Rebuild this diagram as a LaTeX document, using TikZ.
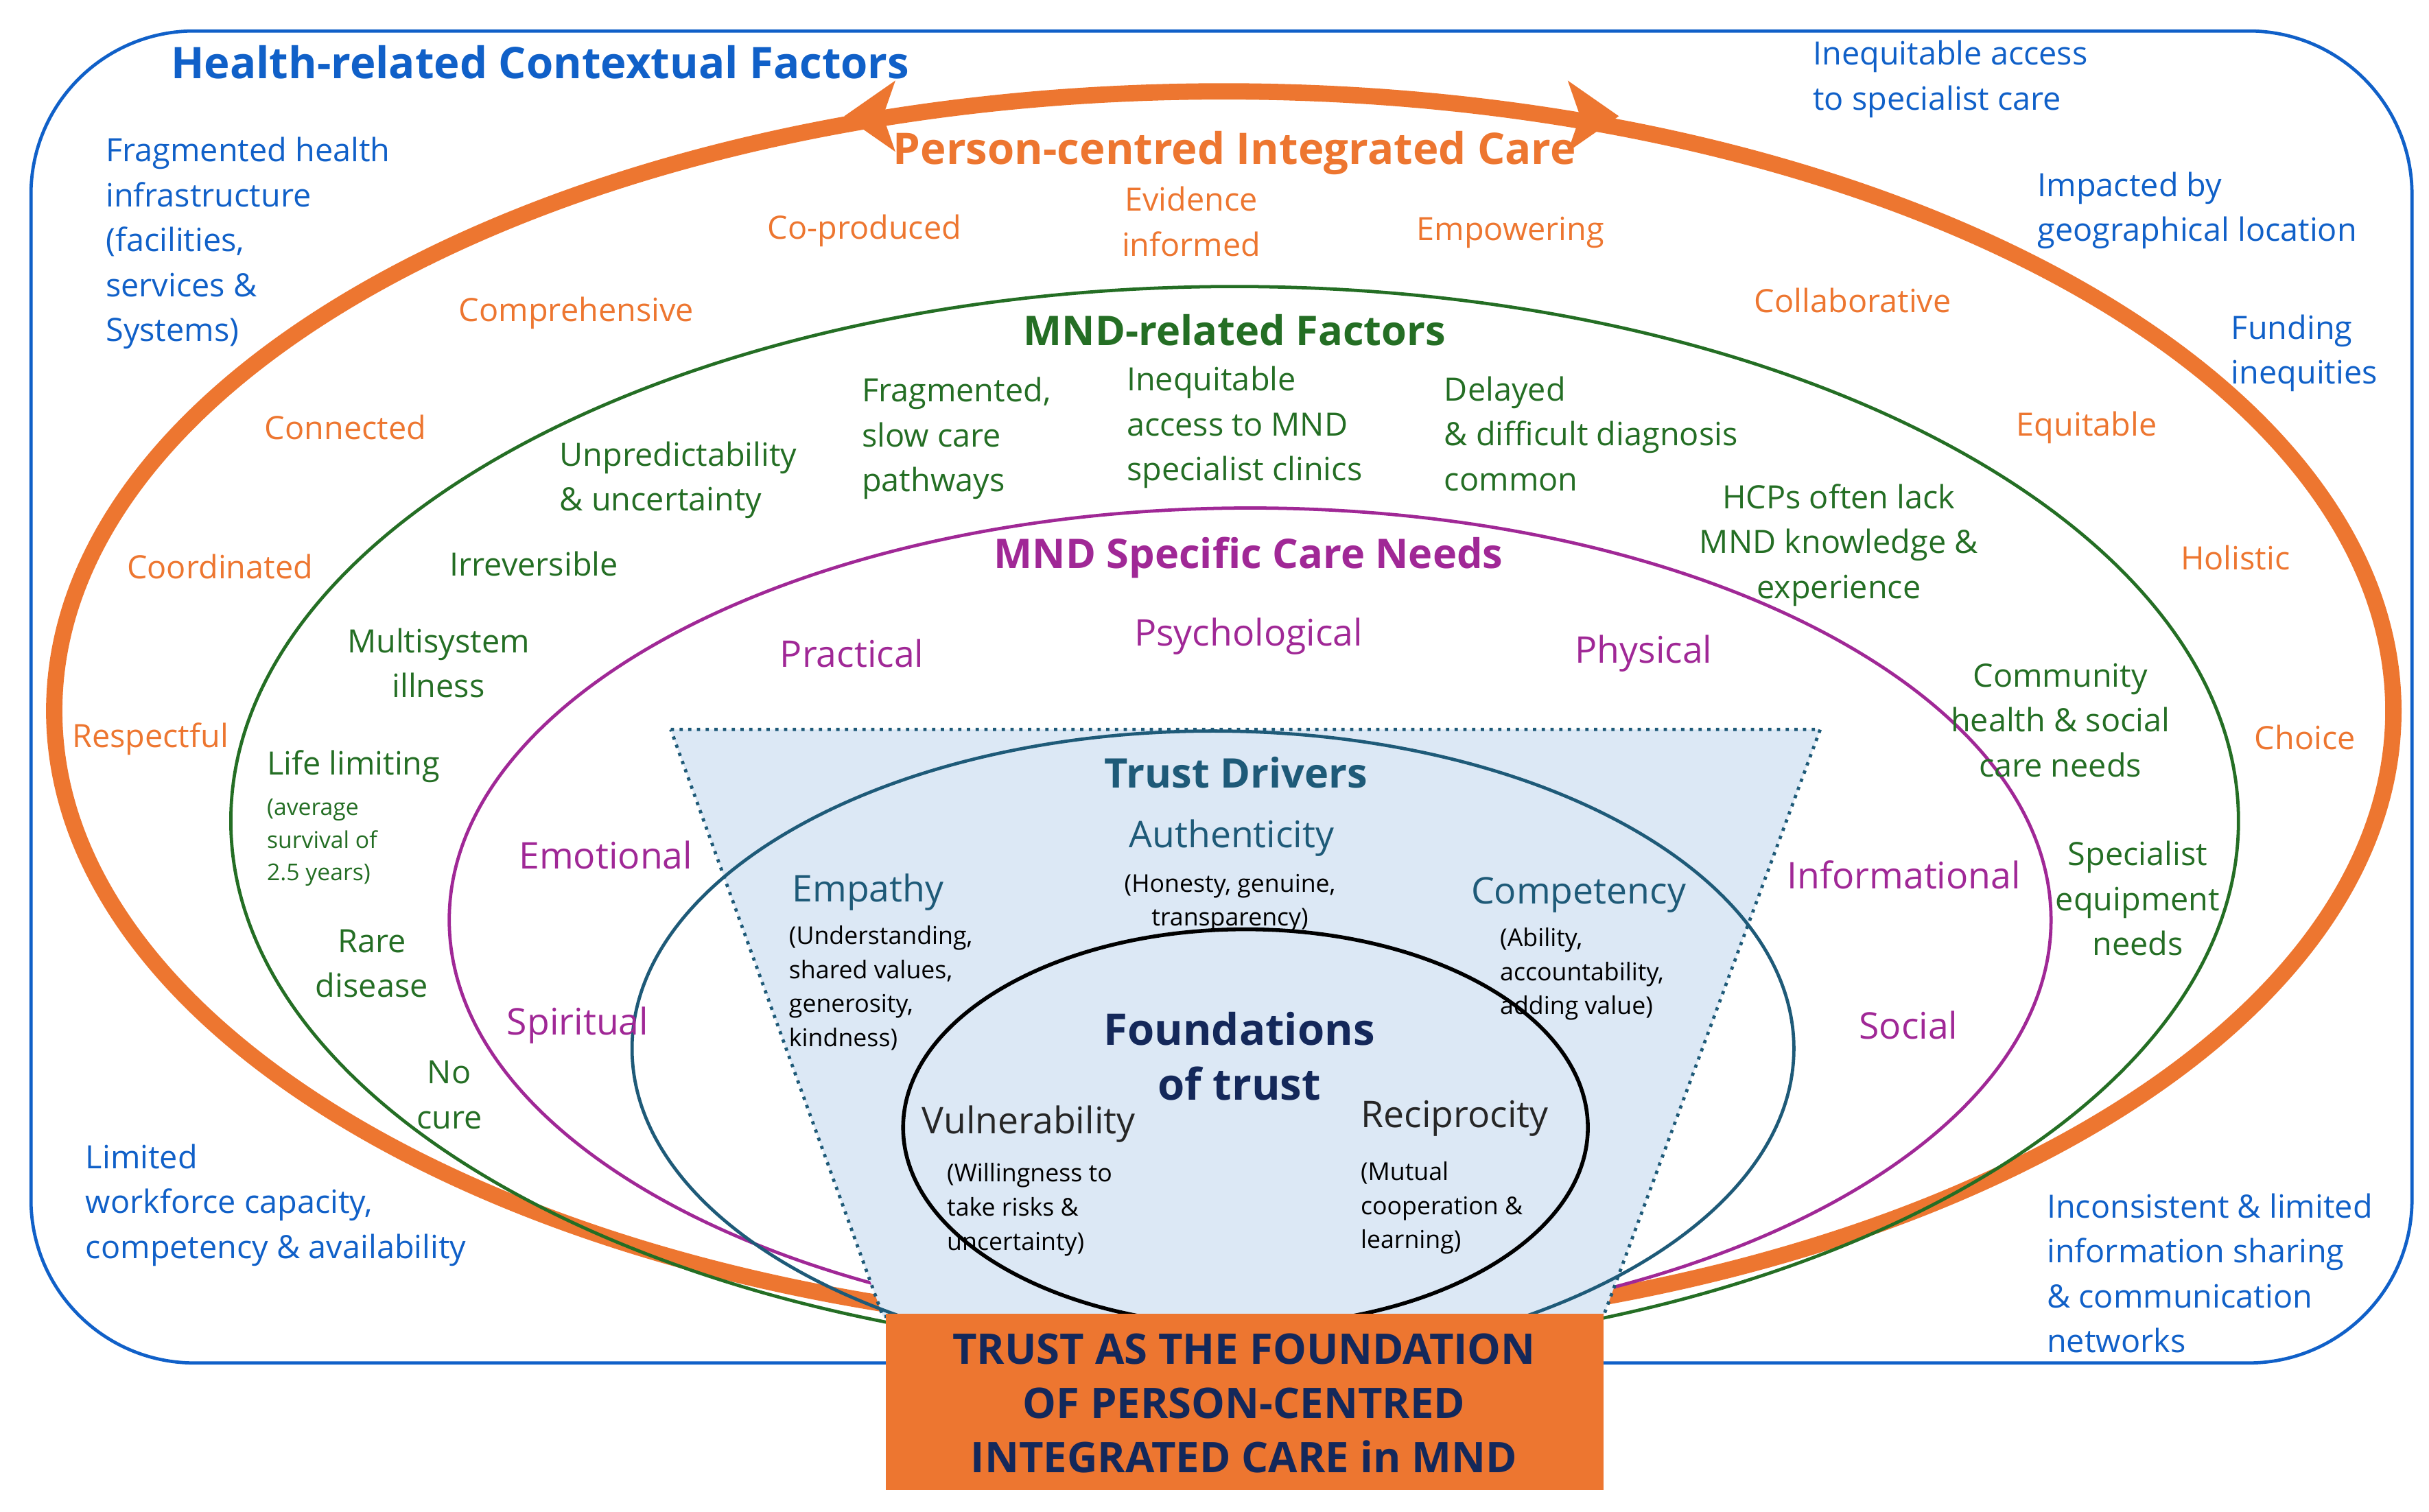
\documentclass[tikz,border=0pt]{standalone}
\usepackage{fontspec}
\setmainfont{Open Sans}
\definecolor{ctxblue}{RGB}{16,96,200}
\definecolor{pcorange}{RGB}{237,118,48}
\definecolor{mndgreen}{RGB}{36,110,36}
\definecolor{needpurple}{RGB}{160,40,150}
\definecolor{drvteal}{RGB}{30,90,120}
\definecolor{fndnavy}{RGB}{20,40,90}
\definecolor{trapfill}{RGB}{220,232,245}
\tikzset{
  lbl/.style={inner sep=0pt, font=\fontsize{11.8}{16.5}\selectfont},
  big/.style={inner sep=0pt, font=\fontsize{13.5}{16}\selectfont},
  sub/.style={inner sep=0pt, font=\fontsize{9}{12.5}\selectfont},
  hd/.style={inner sep=0pt, font=\fontsize{15}{18}\selectfont\bfseries},
  L/.style={anchor=west, align=left},
  C/.style={align=center}
}
\begin{document}
\begin{tikzpicture}[x=0.02cm, y=-0.02cm]
\useasboundingbox (0,0) rectangle (1568,976);

% rings
\draw[ctxblue, line width=1.2pt, rounded corners=60] (20,20) rectangle (1557,880);
\draw[pcorange, line width=6pt] (790,459) ellipse [x radius=755, y radius=400];
\fill[pcorange] (545,75) -- (578,52) -- (570,75) -- (578,98) -- cycle;
\fill[pcorange] (1045,75) -- (1012,52) -- (1020,75) -- (1012,98) -- cycle;
\draw[mndgreen, line width=1.2pt] (797,530) ellipse [x radius=648, y radius=345];
\draw[needpurple, line width=1.2pt] (807,594) ellipse [x radius=517, y radius=266];
\filldraw[fill=trapfill, draw=drvteal, dotted, line width=1.2pt]
  (433,471) -- (1175,471) -- (1035,850) -- (570,850) -- cycle;
\draw[drvteal, line width=1.2pt] (783,677) ellipse [x radius=375, y radius=205];
\draw[black, line width=1.4pt] (804,728) ellipse [x radius=221, y radius=128];
\fill[pcorange] (572,848) rectangle (1035,962);
\node[hd, C, fndnavy, font=\fontsize{15.5}{20}\selectfont\bfseries] (core) at (803,906)
  {TRUST AS THE FOUNDATION\\OF PERSON-CENTRED\\INTEGRATED CARE in MND};

% contextual factors
\begin{scope}[ctxblue]
\node[hd, L, font=\fontsize{16}{18}\selectfont\bfseries] (ctxtitle) at (110,40) {Health-related Contextual Factors};
\node[lbl, L] (access) at (1170,51) {Inequitable access\\to specialist care};
\node[lbl, L] (infra) at (68,157) {Fragmented health\\infrastructure\\(facilities,\\services \&\\Systems)};
\node[lbl, L] (geo) at (1315,136) {Impacted by\\geographical location};
\node[lbl, L] (funding) at (1440,228) {Funding\\inequities};
\node[lbl, L] (workforce) at (55,778) {Limited\\workforce capacity,\\competency \& availability};
\node[lbl, L] (info) at (1321,822) {Inconsistent \& limited\\information sharing\\\& communication\\networks};
\end{scope}

% person-centred care
\begin{scope}[pcorange]
\node[hd, C, font=\fontsize{16}{18}\selectfont\bfseries] (pctitle) at (797,99) {Person-centred Integrated Care};
\node[lbl] (coprod) at (558,149) {Co-produced};
\node[lbl, C] (evidence) at (769,143) {Evidence\\informed};
\node[lbl] (empower) at (975,150) {Empowering};
\node[lbl] (compre) at (372,202) {Comprehensive};
\node[lbl] (collab) at (1196,194) {Collaborative};
\node[lbl] (connect) at (223,276) {Connected};
\node[lbl] (equit) at (1347,276) {Equitable};
\node[lbl] (coord) at (142,366) {Coordinated};
\node[lbl] (holist) at (1443,360) {Holistic};
\node[lbl] (respect) at (97,477) {Respectful};
\node[lbl] (choice) at (1488,476) {Choice};
\end{scope}

% MND-related factors
\begin{scope}[mndgreen]
\node[hd, C] (mndtitle) at (797,213) {MND-related Factors};
\node[lbl, L] (slow) at (556,283) {Fragmented,\\slow care\\pathways};
\node[lbl, L] (clinics) at (727,276) {Inequitable\\access to MND\\specialist clinics};
\node[lbl, L] (diag) at (932,280) {Delayed\\\& difficult diagnosis\\common};
\node[lbl, L] (unpred) at (361,310) {Unpredictability\\\& uncertainty};
\node[lbl, C] (hcps) at (1187,352) {HCPs often lack\\MND knowledge \&\\experience};
\node[lbl, L] (irrev) at (290,364) {Irreversible};
\node[lbl, C] (multi) at (283,428) {Multisystem\\illness};
\node[lbl, C] (commun) at (1330,465) {Community\\health \& social\\care needs};
\node[lbl, L] (limit) at (172,495) {Life limiting};
\node[sub, L, font=\fontsize{8.5}{12}\selectfont] (survival) at (172,544) {(average\\survival of\\2.5 years)};
\node[lbl, C] (equip) at (1380,580) {Specialist\\equipment\\needs};
\node[lbl, C] (rare) at (240,622) {Rare\\disease};
\node[lbl, C] (nocure) at (290,707) {No\\cure};
\end{scope}

% specific care needs
\begin{scope}[needpurple]
\node[hd, C] (needtitle) at (806,360) {MND Specific Care Needs};
\node[big] (pract) at (550,422) {Practical};
\node[big] (psych) at (806,411) {Psychological};
\node[big] (phys) at (1061,422) {Physical};
\node[big] (emot) at (391,552) {Emotional};
\node[big] (inform) at (1229,565) {Informational};
\node[big] (spirit) at (373,662) {Spiritual};
\node[big] (social) at (1232,662) {Social};
\end{scope}

% trust drivers
\begin{scope}[drvteal]
\node[hd, C] (drvtitle) at (798,499) {Trust Drivers};
\node[big] (authen) at (795,541) {Authenticity};
\node[sub, C, black] (authsub) at (794,583) {(Honesty, genuine,\\transparency)};
\node[big, L] (empathy) at (511,576) {Empathy};
\node[sub, L, black] (empsub) at (509,638) {(Understanding,\\shared values,\\generosity,\\kindness)};
\node[big] (compet) at (1019,578) {Competency};
\node[sub, L, black] (compsub) at (968,629) {(Ability,\\accountability,\\adding value)};
\end{scope}

% foundations
\begin{scope}[fndnavy]
\node[hd, C, font=\fontsize{16}{20}\selectfont\bfseries] (fndtitle) at (800,682) {Foundations\\of trust};
\node[big, black!85] (vulner) at (664,726) {Vulnerability};
\node[sub, L, black] (vulsub) at (611,781) {(Willingness to\\take risks \&\\uncertainty)};
\node[big, black!85] (recip) at (939,722) {Reciprocity};
\node[sub, L, black] (recsub) at (878,780) {(Mutual\\cooperation \&\\learning)};
\end{scope}
\end{tikzpicture}
\end{document}
